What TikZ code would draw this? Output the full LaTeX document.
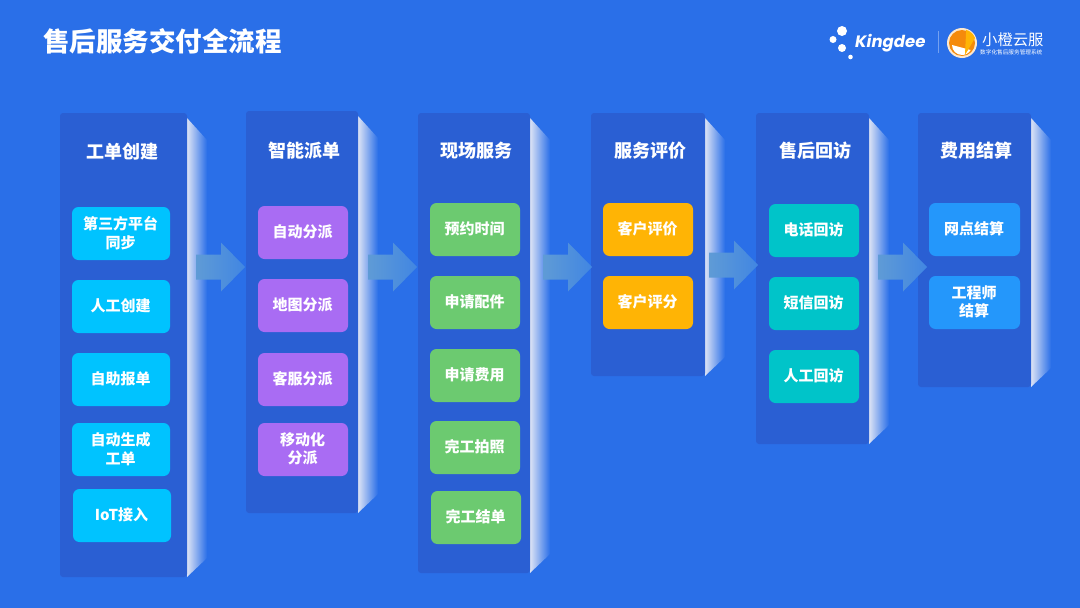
\documentclass[tikz,border=0pt]{standalone}
\usepackage{fontspec}
\setmainfont{Noto Sans CJK SC}
\newfontfamily\latinlogo{Poppins}
\usetikzlibrary{calc}
\definecolor{bgblue}{HTML}{2A6FE8}
\definecolor{panelblue}{HTML}{2A5FD3}
\definecolor{sidelight}{HTML}{DCE3F5}
\definecolor{cyanbox}{HTML}{00C3FF}
\definecolor{purplebox}{HTML}{A96CF3}
\definecolor{greenbox}{HTML}{6CCA70}
\definecolor{orangebox}{HTML}{FFB405}
\definecolor{tealbox}{HTML}{00C4C9}
\definecolor{bluebox}{HTML}{2497FB}
\definecolor{arrowleft}{HTML}{5F9BD6}
\definecolor{arrowright}{HTML}{4186E2}
\definecolor{logoorange}{HTML}{F58A0B}
\tikzset{
  x=1pt,y=-1pt,
  panelshape/.style={fill=panelblue,rounded corners=3pt},
  paneltitle/.style={text=white,font=\fontsize{18}{22}\selectfont\bfseries,inner sep=0pt},
}
% name, x0, x1, y0, y1, fill, text
\newcommand{\itembox}[7]{%
  \fill[#6,rounded corners=6.5pt] (#2,#4) rectangle (#3,#5);
  \node[text=white,font=\fontsize{15}{18.5}\selectfont\bfseries,align=center,inner sep=0pt] (#1) at ({(#2+#3)/2-0.5},{(#4+#5)/2-0.5}) {#7};
}
% name, x0, x1, y0, y1, title, title x, title y
\newcommand{\stagepanel}[8]{%
  \shade[left color=sidelight,right color=bgblue] (#3,#4+5) -- (#3+20,#4+27) -- (#3+20,#5-19) -- (#3,#5) -- cycle;
  \fill[panelshape] (#2,#4) rectangle (#3,#5);
  \node[paneltitle] (#1) at (#7,#8) {#6};
}
% left x, centre y
\newcommand{\blockarrow}[2]{%
  \shade[left color=arrowleft,right color=arrowright]
    (#1,#2-12.5) -- (#1+25,#2-12.5) -- (#1+25,#2-24.5) -- (#1+49,#2) -- (#1+25,#2+24.5) -- (#1+25,#2+12.5) -- (#1,#2+12.5) -- cycle;
}
\begin{document}
\begin{tikzpicture}
\useasboundingbox (0,0) rectangle (1080,608);
\fill[bgblue] (0,0) rectangle (1080,608);

\node[text=white,font=\fontsize{26.5}{30}\selectfont\bfseries,anchor=west,inner sep=0pt] (maintitle) at (43,41) {售后服务交付全流程};

% logo
\fill[white] (842,31) circle (5);
\fill[white] (833,39.5) circle (3.5);
\fill[white] (842,48) circle (4);
\fill[white] (850.5,57) circle (2.3);
\node[text=white,font=\latinlogo\fontsize{16.5}{20}\selectfont\bfseries\itshape,anchor=west,inner sep=0pt] (kingdee) at (855,43) {Kingdee};
\draw[white,opacity=.35,line width=.8pt] (938,31) -- (938,53);
\fill[white!80!logoorange] (962,43) circle (15);
\fill[logoorange] (962,43) circle (13);
\fill[white] (952,45) arc (180:30:10) -- cycle;
\fill[orangebox] (965,55) -- (975,38) arc (-20:-75:13) -- cycle;
\node[text=white,font=\fontsize{15.3}{18}\selectfont,anchor=west,inner sep=0pt] (brand) at (982,39.5) {小橙云服};
\node[text=white,font=\fontsize{5.65}{7}\selectfont,anchor=west,inner sep=0pt] (slogan) at (980,52) {数字化售后服务管理系统};

% panels
\stagepanel{t1}{60}{187}{113}{577}{工单创建}{122}{152}
\stagepanel{t2}{246}{358}{111}{513}{智能派单}{304}{151}
\stagepanel{t3}{418}{530}{113}{573}{现场服务}{476}{151}
\stagepanel{t4}{591}{705}{113}{376}{服务评价}{650}{151}
\stagepanel{t5}{756}{869}{113}{444}{售后回访}{815}{151}
\stagepanel{t6}{918}{1031}{113}{387}{费用结算}{976}{151}

% arrows
\blockarrow{196}{267}
\blockarrow{368}{267}
\blockarrow{543}{267}
\blockarrow{709}{265}
\blockarrow{878}{267}

% column 1
\itembox{a1}{72}{170}{207}{260}{cyanbox}{第三方平台\\同步}
\itembox{a2}{72}{170}{280}{333}{cyanbox}{人工创建}
\itembox{a3}{72}{170}{353}{406}{cyanbox}{自助报单}
\itembox{a4}{72}{170}{423}{476}{cyanbox}{自动生成\\工单}
\itembox{a5}{73}{171}{489}{542}{cyanbox}{IoT接入}
% column 2
\itembox{b1}{258}{348}{206}{259}{purplebox}{自动分派}
\itembox{b2}{258}{348}{279}{332}{purplebox}{地图分派}
\itembox{b3}{258}{348}{353}{406}{purplebox}{客服分派}
\itembox{b4}{258}{348}{423}{476}{purplebox}{移动化\\分派}
% column 3
\itembox{c1}{430}{520}{203}{256}{greenbox}{预约时间}
\itembox{c2}{430}{520}{276}{329}{greenbox}{申请配件}
\itembox{c3}{430}{520}{349}{402}{greenbox}{申请费用}
\itembox{c4}{430}{520}{421}{474}{greenbox}{完工拍照}
\itembox{c5}{431}{521}{491}{544}{greenbox}{完工结单}
% column 4
\itembox{d1}{603}{693}{203}{256}{orangebox}{客户评价}
\itembox{d2}{603}{693}{276}{329}{orangebox}{客户评分}
% column 5
\itembox{e1}{769}{859}{204}{257}{tealbox}{电话回访}
\itembox{e2}{769}{859}{277}{330}{tealbox}{短信回访}
\itembox{e3}{769}{859}{350}{403}{tealbox}{人工回访}
% column 6
\itembox{f1}{929}{1020}{203}{256}{bluebox}{网点结算}
\itembox{f2}{929}{1020}{276}{329}{bluebox}{工程师\\结算}
\end{tikzpicture}
\end{document}
